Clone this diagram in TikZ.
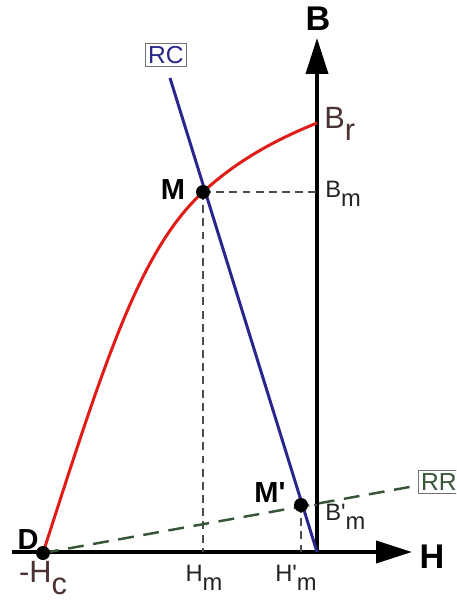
\documentclass[tikz,border=0pt]{standalone}
\usepackage{fontspec}
\setmainfont{Liberation Sans}
\usepackage{tikz}
\usetikzlibrary{arrows.meta, positioning, calc}

\definecolor{curvered}{RGB}{224,28,24}
\definecolor{lineblue}{RGB}{40,40,140}
\definecolor{linegreen}{RGB}{55,85,55}
\definecolor{labelbrown}{RGB}{75,50,50}
\definecolor{labelgrey}{RGB}{35,35,35}

\newcommand{\lowsub}[1]{\raisebox{-0.38em}{#1}}
\newcommand{\prm}{\textquotesingle}

\tikzset{
  axis/.style={line width=2.2pt, -{Triangle[length=0.72cm, width=0.44cm]}},
  axislabel/.style={font=\fontsize{19.5}{22}\selectfont\bfseries, inner sep=0pt},
  pointlabel/.style={font=\fontsize{16.5}{19}\selectfont\bfseries, inner sep=0pt},
  biglabel/.style={font=\fontsize{17.5}{20}\selectfont, text=labelbrown, inner sep=0pt},
  smalllabel/.style={font=\fontsize{13.5}{16}\selectfont, text=labelgrey, inner sep=0pt},
  dot/.style={circle, fill=black, inner sep=0pt, minimum size=0.28cm},
  guide/.style={draw=black!70, line width=0.6pt, dash pattern=on 4.5pt off 3pt},
  linebox/.style={draw=black!55, line width=0.5pt, inner sep=1.5pt,
    font=\fontsize{14}{16}\selectfont}
}

\begin{document}
\begin{tikzpicture}[x=0.02cm, y=-0.02cm]

\clip (0,0) rectangle (456,601);

% ── Axes ─────────────────────────────────────────────────────────────────────
\coordinate (O) at (317,552);
\coordinate (Hstart) at (12,552);
\coordinate (Hend) at (412,552);
\coordinate (Bend) at (317,38);

\draw[axis] (Hstart) -- (Hend);
\draw[axis] (O) -- (Bend);

\node[axislabel] (Blabel) at (318,19) {B};
\node[axislabel] (Hlabel) at (432,557) {H};

% ── Points ───────────────────────────────────────────────────────────────────
\coordinate (D) at (43,553);
\coordinate (M) at (203,192);
\coordinate (Mp) at (301,505);
\coordinate (Br) at (317,123);
\coordinate (RCtop) at (170,78);
\coordinate (RRend) at (415,486);

% dashed guides
\draw[guide] (M) -- (M -| O);
\draw[guide] (M) -- (M |- O);
\draw[guide] (Mp) -- (Mp |- O);
\draw[guide] (Mp) -- (Mp -| O);

% demagnetisation curve
\draw[curvered, line width=1.7pt]
  (D) .. controls (105,360) and (140,250) .. (M)
      .. controls (240,158) and (280,138) .. (Br);

% load lines
\draw[lineblue, line width=1.7pt] (RCtop) -- (O);
\draw[linegreen, line width=1.4pt, dash pattern=on 9pt off 5.5pt] (D) -- (RRend);

\node[linebox, text=lineblue, anchor=south] (RC) at (166,67) {RC};
\node[linebox, text=linegreen, anchor=west] (RR) at (418,482) {RR};

% dots
\node[dot] (Ddot) at (D) {};
\node[dot] (Mdot) at (M) {};
\node[dot] (Mpdot) at (Mp) {};

% ── Labels ───────────────────────────────────────────────────────────────────
\node[pointlabel] (Mlabel) at (173,190) {M};
\node[pointlabel] (Mplabel) at (270,493) {M\prm};
\node[pointlabel] (Dlabel) at (28,540) {D};

\node[biglabel, anchor=west] (Brlabel) at (324,124) {B\lowsub{r}};
\node[biglabel] (Hclabel) at (43,578) {-H\lowsub{c}};

\node[smalllabel, anchor=west] (Bmlabel) at (325,194) {B\lowsub{m}};
\node[smalllabel, anchor=west] (Bpmlabel) at (325,517) {B\prm\lowsub{m}};
\node[smalllabel] (Hmlabel) at (204,578) {H\lowsub{m}};
\node[smalllabel] (Hpmlabel) at (296,578) {H\prm\lowsub{m}};

\end{tikzpicture}
\end{document}
